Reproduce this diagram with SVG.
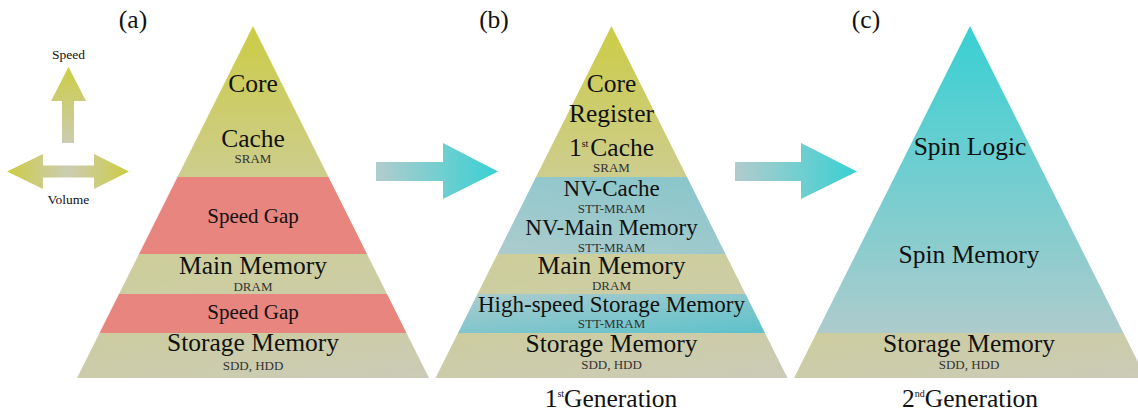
<svg xmlns="http://www.w3.org/2000/svg" width="1138" height="416" viewBox="0 0 1138 416">
<defs>
<linearGradient id="gYel" x1="0" y1="0" x2="0" y2="1"><stop offset="0" stop-color="#cccc46"/><stop offset="1" stop-color="#cdcd8e"/></linearGradient>
<linearGradient id="gMain" x1="0" y1="0" x2="1" y2="1"><stop offset="0" stop-color="#cdcf98"/><stop offset="1" stop-color="#cccca8"/></linearGradient>
<linearGradient id="gStor" x1="0" y1="0" x2="1" y2="1"><stop offset="0" stop-color="#cccd9e"/><stop offset="1" stop-color="#cbcbb8"/></linearGradient>
<linearGradient id="gNV" x1="0" y1="1" x2="1" y2="0"><stop offset="0" stop-color="#b0cccd"/><stop offset="1" stop-color="#82c5cb"/></linearGradient>
<linearGradient id="gHS" x1="0" y1="0" x2="1" y2="1"><stop offset="0" stop-color="#b0cccd"/><stop offset="1" stop-color="#58c1cb"/></linearGradient>
<linearGradient id="gSpin" x1="0" y1="0" x2="0" y2="1"><stop offset="0" stop-color="#38d0d3"/><stop offset="1" stop-color="#adcbcc"/></linearGradient>
<linearGradient id="gArr" x1="0" y1="0" x2="1" y2="0"><stop offset="0" stop-color="#b2cccd"/><stop offset="1" stop-color="#38d0d3"/></linearGradient>
<linearGradient id="gUp" x1="0" y1="0" x2="0" y2="1"><stop offset="0" stop-color="#cccc44"/><stop offset="1" stop-color="#ccccb2"/></linearGradient>
<linearGradient id="gLR" x1="0" y1="0" x2="1" y2="0"><stop offset="0" stop-color="#cccc44"/><stop offset="0.5" stop-color="#ccccb4"/><stop offset="1" stop-color="#cccc44"/></linearGradient>
<clipPath id="clipA"><polygon points="253,26 429,378 77,378"/></clipPath>
<clipPath id="clipB"><polygon points="611.5,26 787.5,378 435.5,378"/></clipPath>
<clipPath id="clipC"><polygon points="970,26 1146,378 794,378"/></clipPath>
</defs>
<style>
.t text{text-anchor:middle;fill:#111}
.big{font-size:25.5px}
.mid{font-size:21px}
.nv{font-size:23px}
.sm{font-size:13px}
.t text.sm{fill:#333}
.lg{font-size:13.5px}
.sup{font-size:10px}
</style>
<g font-family="Liberation Serif, DejaVu Serif, serif">
<g id="legend" class="t">
<polygon points="62,143 62,101 51,101 68.5,67 86,101 74,101 74,143" fill="url(#gUp)"/>
<polygon points="7,171.5 43,154 43,165.5 94,165.5 94,154 129,171.5 94,189 94,177.5 43,177.5 43,189" fill="url(#gLR)"/>
<text class="lg" x="68.5" y="59">Speed</text>
<text class="lg" x="68.5" y="204">Volume</text>
</g>

<g id="pyramid-a" class="t">
<g clip-path="url(#clipA)">
<rect x="70" y="26" width="370" height="151" fill="url(#gYel)"/>
<rect x="70" y="177" width="370" height="77" fill="#e8857f"/>
<rect x="70" y="254" width="370" height="40" fill="url(#gMain)"/>
<rect x="70" y="294" width="370" height="39" fill="#e8857f"/>
<rect x="70" y="333" width="370" height="45" fill="url(#gStor)"/>
</g>
<text class="big" x="133" y="28">(a)</text>
<text class="big" x="253" y="92">Core</text>
<text class="big" x="253" y="146.5">Cache</text>
<text class="sm" x="253" y="163">SRAM</text>
<text class="mid" x="253" y="223">Speed Gap</text>
<text class="big" x="253" y="274">Main Memory</text>
<text class="sm" x="253" y="291">DRAM</text>
<text class="mid" x="253" y="319">Speed Gap</text>
<text class="big" x="253" y="351">Storage Memory</text>
<text class="sm" x="253" y="370">SDD, HDD</text>
</g>

<g id="pyramid-b" class="t">
<g clip-path="url(#clipB)">
<rect x="430" y="26" width="370" height="151" fill="url(#gYel)"/>
<rect x="430" y="177" width="370" height="77" fill="url(#gNV)"/>
<rect x="430" y="254" width="370" height="40" fill="url(#gMain)"/>
<rect x="430" y="294" width="370" height="39" fill="url(#gHS)"/>
<rect x="430" y="333" width="370" height="45" fill="url(#gStor)"/>
</g>
<text class="big" x="494" y="28">(b)</text>
<text class="big" x="611.5" y="92">Core</text>
<text class="big" x="611.5" y="122">Register</text>
<text class="big" x="611.5" y="156">1<tspan class="sup" dy="-9">st</tspan><tspan dy="9" dx="2">Cache</tspan></text>
<text class="sm" x="611.5" y="172">SRAM</text>
<text class="nv" x="611.5" y="196">NV-Cache</text>
<text class="sm" x="611.5" y="213">STT-MRAM</text>
<text class="nv" x="611.5" y="235">NV-Main Memory</text>
<text class="sm" x="611.5" y="251.5">STT-MRAM</text>
<text class="big" x="611.5" y="274">Main Memory</text>
<text class="sm" x="611.5" y="290">DRAM</text>
<text class="nv" x="611.5" y="312">High-speed Storage Memory</text>
<text class="sm" x="611.5" y="328">STT-MRAM</text>
<text class="big" x="611.5" y="352">Storage Memory</text>
<text class="sm" x="611.5" y="369">SDD, HDD</text>
<text class="big" x="611" y="407">1<tspan class="sup" dy="-10">st</tspan><tspan dy="10">Generation</tspan></text>
</g>

<g id="pyramid-c" class="t">
<g clip-path="url(#clipC)">
<rect x="790" y="26" width="360" height="307" fill="url(#gSpin)"/>
<rect x="790" y="333" width="360" height="45" fill="url(#gStor)"/>
</g>
<text class="big" x="866" y="28">(c)</text>
<text class="big" x="970" y="155">Spin Logic</text>
<text class="big" x="969" y="263">Spin Memory</text>
<text class="big" x="969" y="352">Storage Memory</text>
<text class="sm" x="969" y="369">SDD, HDD</text>
<text class="big" x="970" y="407">2<tspan class="sup" dy="-10">nd</tspan><tspan dy="10">Generation</tspan></text>
</g>

<g id="connectors">
<polygon points="376,162 443,162 443,143 498,171.5 443,199 443,181 376,181" fill="url(#gArr)"/>
<polygon points="735,162 801,162 801,143 857,171.5 801,199 801,181 735,181" fill="url(#gArr)"/>
</g>
</g>
</svg>
